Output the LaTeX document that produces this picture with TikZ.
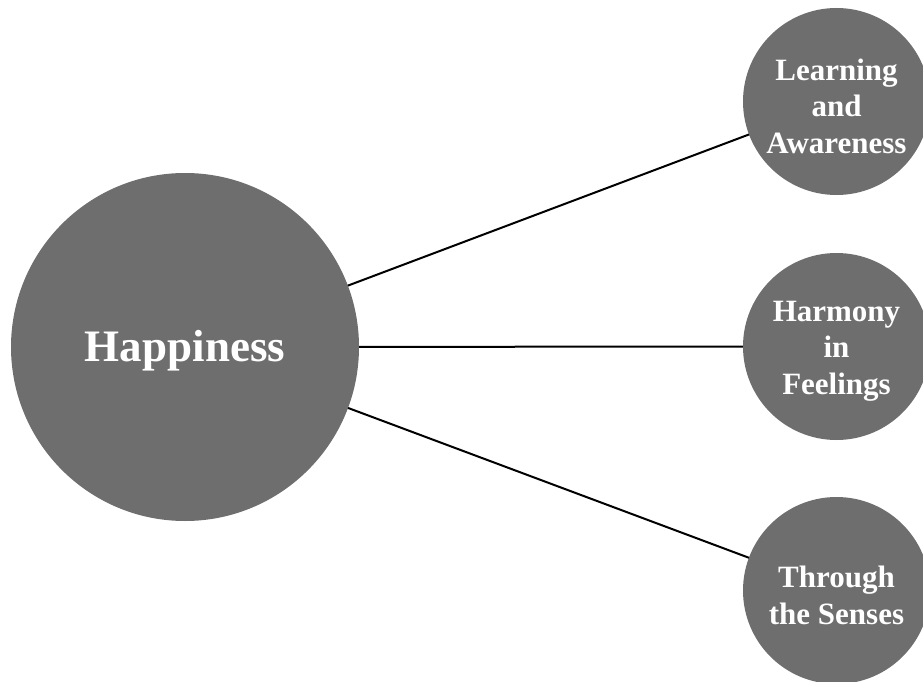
\documentclass[tikz,border=0pt]{standalone}
\usepackage{fontspec}
\setmainfont{Liberation Serif}
\definecolor{discgray}{RGB}{110,110,110}
\tikzset{
  disc/.style={circle, fill=discgray, draw=none, inner sep=0pt},
  bigdisc/.style={disc, minimum size=348pt},
  smalldisc/.style={disc, minimum size=187pt},
  disctext/.style={inner sep=0pt, align=center, text=white,
    font=\bfseries\fontsize{31}{36.5}\selectfont},
  bigtext/.style={disctext, font=\bfseries\fontsize{45}{50}\selectfont},
  link/.style={draw=black, line width=2pt}
}
\begin{document}
\begin{tikzpicture}[x=1pt,y=-1pt]
\useasboundingbox (0,0) rectangle (923,682);
\clip (0,0) rectangle (923,682);
\coordinate (hc) at (185,347);
\coordinate (lc) at (836.5,101.5);
\coordinate (mc) at (836.5,346.5);
\coordinate (tc) at (836.5,590.5);
\draw[link] (hc) -- (lc);
\draw[link] (hc) -- (mc);
\draw[link] (hc) -- (tc);
\node[bigdisc] (hap) at (hc) {};
\node[smalldisc] (learn) at (lc) {};
\node[smalldisc] (harm) at (mc) {};
\node[smalldisc] (sens) at (tc) {};
\node[bigtext] (hapt) at ([yshift=-4pt]hc) {Happiness};
\node[disctext] (learnt) at ([yshift=-4.5pt]lc) {Learning\\and\\Awareness};
\node[disctext] (harmt) at ([yshift=-4.5pt]mc) {Harmony\\in\\Feelings};
\node[disctext] (senst) at ([yshift=-5pt]tc) {Through\\the Senses};
\end{tikzpicture}
\end{document}
